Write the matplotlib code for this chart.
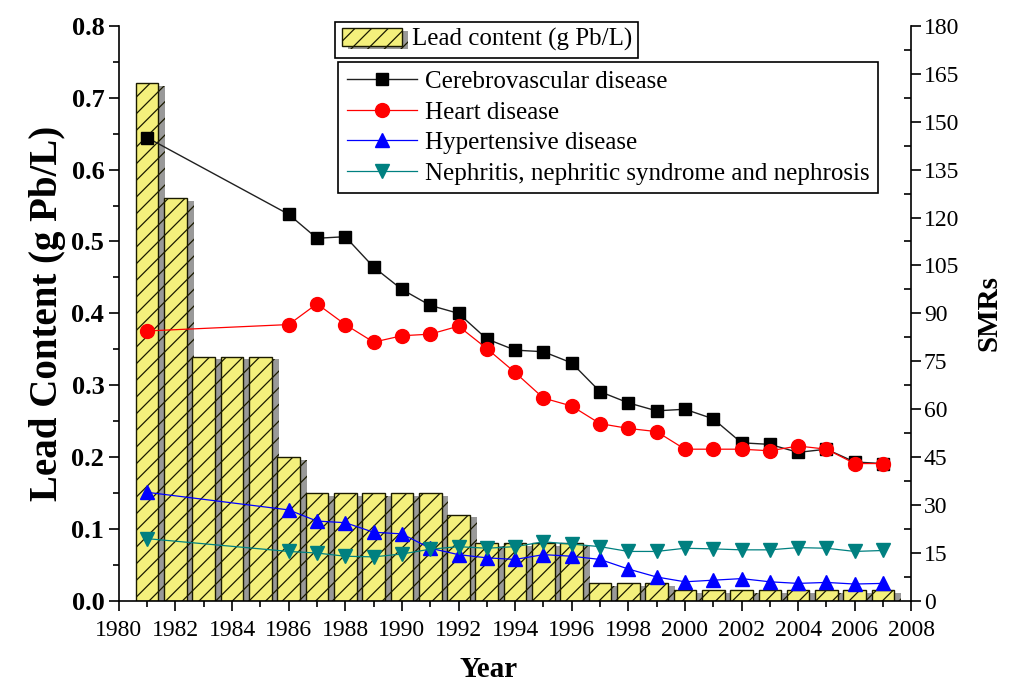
import matplotlib
matplotlib.use("Agg")
import matplotlib.pyplot as plt
import matplotlib.patheffects as pe
from matplotlib.ticker import MultipleLocator, FormatStrFormatter

plt.rcParams['font.family'] = ['Liberation Serif', 'DejaVu Serif']
plt.rcParams['hatch.linewidth'] = 0.9

# lead content in gasoline, 1981-2007
lead_years = list(range(1981, 2008))
lead_content = [0.72, 0.56, 0.34, 0.34, 0.34, 0.20, 0.15, 0.15, 0.15, 0.15,
                0.15, 0.12, 0.08, 0.08, 0.08, 0.08, 0.025, 0.025, 0.025, 0.015,
                0.015, 0.015, 0.015, 0.015, 0.015, 0.015, 0.015]

# SMRs (no data 1982-1985)
smr_years = [1981] + list(range(1986, 2008))
cerebro = [145, 121, 113.5, 114, 104.5, 97.5, 92.5, 90, 82, 78.5, 78, 74.5,
           65.5, 62, 59.5, 60, 57, 49.5, 49, 46.5, 47.5, 43.5, 43]
heart = [84.5, 86.5, 93, 86.5, 81, 83, 83.5, 86, 79, 71.5, 63.5, 61, 55.5,
         54, 53, 47.5, 47.5, 47.5, 47, 48.5, 47.5, 43, 43]
hypertensive = [34, 28.5, 25, 24.5, 21.5, 21, 16.5, 14.5, 13.5, 13, 14.5, 14,
                13, 10, 7.5, 6, 6.5, 7, 6, 5.5, 5.8, 5.3, 5.5]
nephritis = [19.5, 15.5, 15, 14, 13.8, 14.7, 16.2, 17, 16.5, 17, 18.5, 17.8,
             17, 15.5, 15.5, 16.5, 16.3, 16, 16, 16.7, 16.5, 15.5, 15.8]

fig = plt.figure(figsize=(10.16, 6.88), dpi=100)
ax = fig.add_axes([0.117, 0.1265, 0.780, 0.836])
ax2 = ax.twinx()

# bars with grey drop shadow, like the Origin original
bars = ax.bar(lead_years, lead_content, width=0.8, color='#f4f07c',
              edgecolor='#1a1a00', linewidth=1.0, hatch='//',
              label='Lead content (g Pb/L)', zorder=2)
for b in bars:
    b.set_path_effects([pe.SimplePatchShadow(offset=(5, -2), shadow_rgbFace='0.6', alpha=1.0),
                        pe.Normal()])

ax2.plot(smr_years, cerebro, color='#202020', lw=1.0, marker='s', ms=9,
         mfc='black', mec='black', label='Cerebrovascular disease')
ax2.plot(smr_years, heart, color='red', lw=0.9, marker='o', ms=10,
         mfc='red', mec='red', label='Heart disease')
ax2.plot(smr_years, hypertensive, color='blue', lw=0.9, marker='^', ms=10,
         mfc='blue', mec='blue', label='Hypertensive disease')
ax2.plot(smr_years, nephritis, color='#008080', lw=0.9, marker='v', ms=10,
         mfc='#008080', mec='#008080',
         label='Nephritis, nephritic syndrome and nephrosis')

ax.set_xlim(1980, 2008)
ax.set_ylim(0, 0.8)
ax2.set_ylim(0, 180)

ax.xaxis.set_major_locator(MultipleLocator(2))
ax.xaxis.set_minor_locator(MultipleLocator(1))
ax.yaxis.set_major_locator(MultipleLocator(0.1))
ax.yaxis.set_minor_locator(MultipleLocator(0.05))
ax.yaxis.set_major_formatter(FormatStrFormatter('%.1f'))
ax2.yaxis.set_major_locator(MultipleLocator(15))
ax2.yaxis.set_minor_locator(MultipleLocator(7.5))

for a in (ax, ax2):
    a.spines['top'].set_visible(False)
    for s in a.spines.values():
        s.set_linewidth(1.2)
ax2.spines['left'].set_visible(False)
ax2.spines['bottom'].set_visible(False)
ax.spines['right'].set_visible(False)

ax.tick_params(axis='x', which='major', direction='out', length=7, width=1.2, labelsize=17, pad=7)
ax.tick_params(axis='x', which='minor', direction='out', length=4, width=1.2)
ax.tick_params(axis='y', which='major', direction='out', length=7, width=1.2, labelsize=19)
ax.tick_params(axis='y', which='minor', direction='out', length=4, width=1.2)
ax2.tick_params(axis='y', which='major', direction='out', length=7, width=1.2, labelsize=17, pad=2)
ax2.tick_params(axis='y', which='minor', direction='in', length=5, width=1.2)
for t in ax.get_yticklabels():
    t.set_fontweight('bold')

ax.set_xlabel('Year', fontsize=21, fontweight='bold')
ax.xaxis.set_label_coords(0.466, -0.095)
ax.set_ylabel('Lead Content (g Pb/L)', fontsize=28, fontweight='bold', labelpad=4)
ax2.set_ylabel('SMRs', fontsize=21, fontweight='bold', labelpad=12)

leg1 = fig.legend(handles=[bars], labels=['Lead content (g Pb/L)'],
                  loc='upper left', bbox_to_anchor=(0.330, 0.968),
                  fontsize=18, frameon=True, fancybox=False, framealpha=1,
                  edgecolor='black', handlelength=2.4, handletextpad=0.4,
                  borderpad=0.25, borderaxespad=0)
leg1.get_frame().set_linewidth(1.2)
h, l = ax2.get_legend_handles_labels()
leg2 = fig.legend(h, l, loc='upper left', bbox_to_anchor=(0.333, 0.910),
                  fontsize=18, frameon=True, fancybox=False, framealpha=1,
                  edgecolor='black', handlelength=2.8, handletextpad=0.3,
                  labelspacing=0.32, borderpad=0.35, borderaxespad=0)
leg2.get_frame().set_linewidth(1.2)

fig.savefig('out.png', dpi=100)
